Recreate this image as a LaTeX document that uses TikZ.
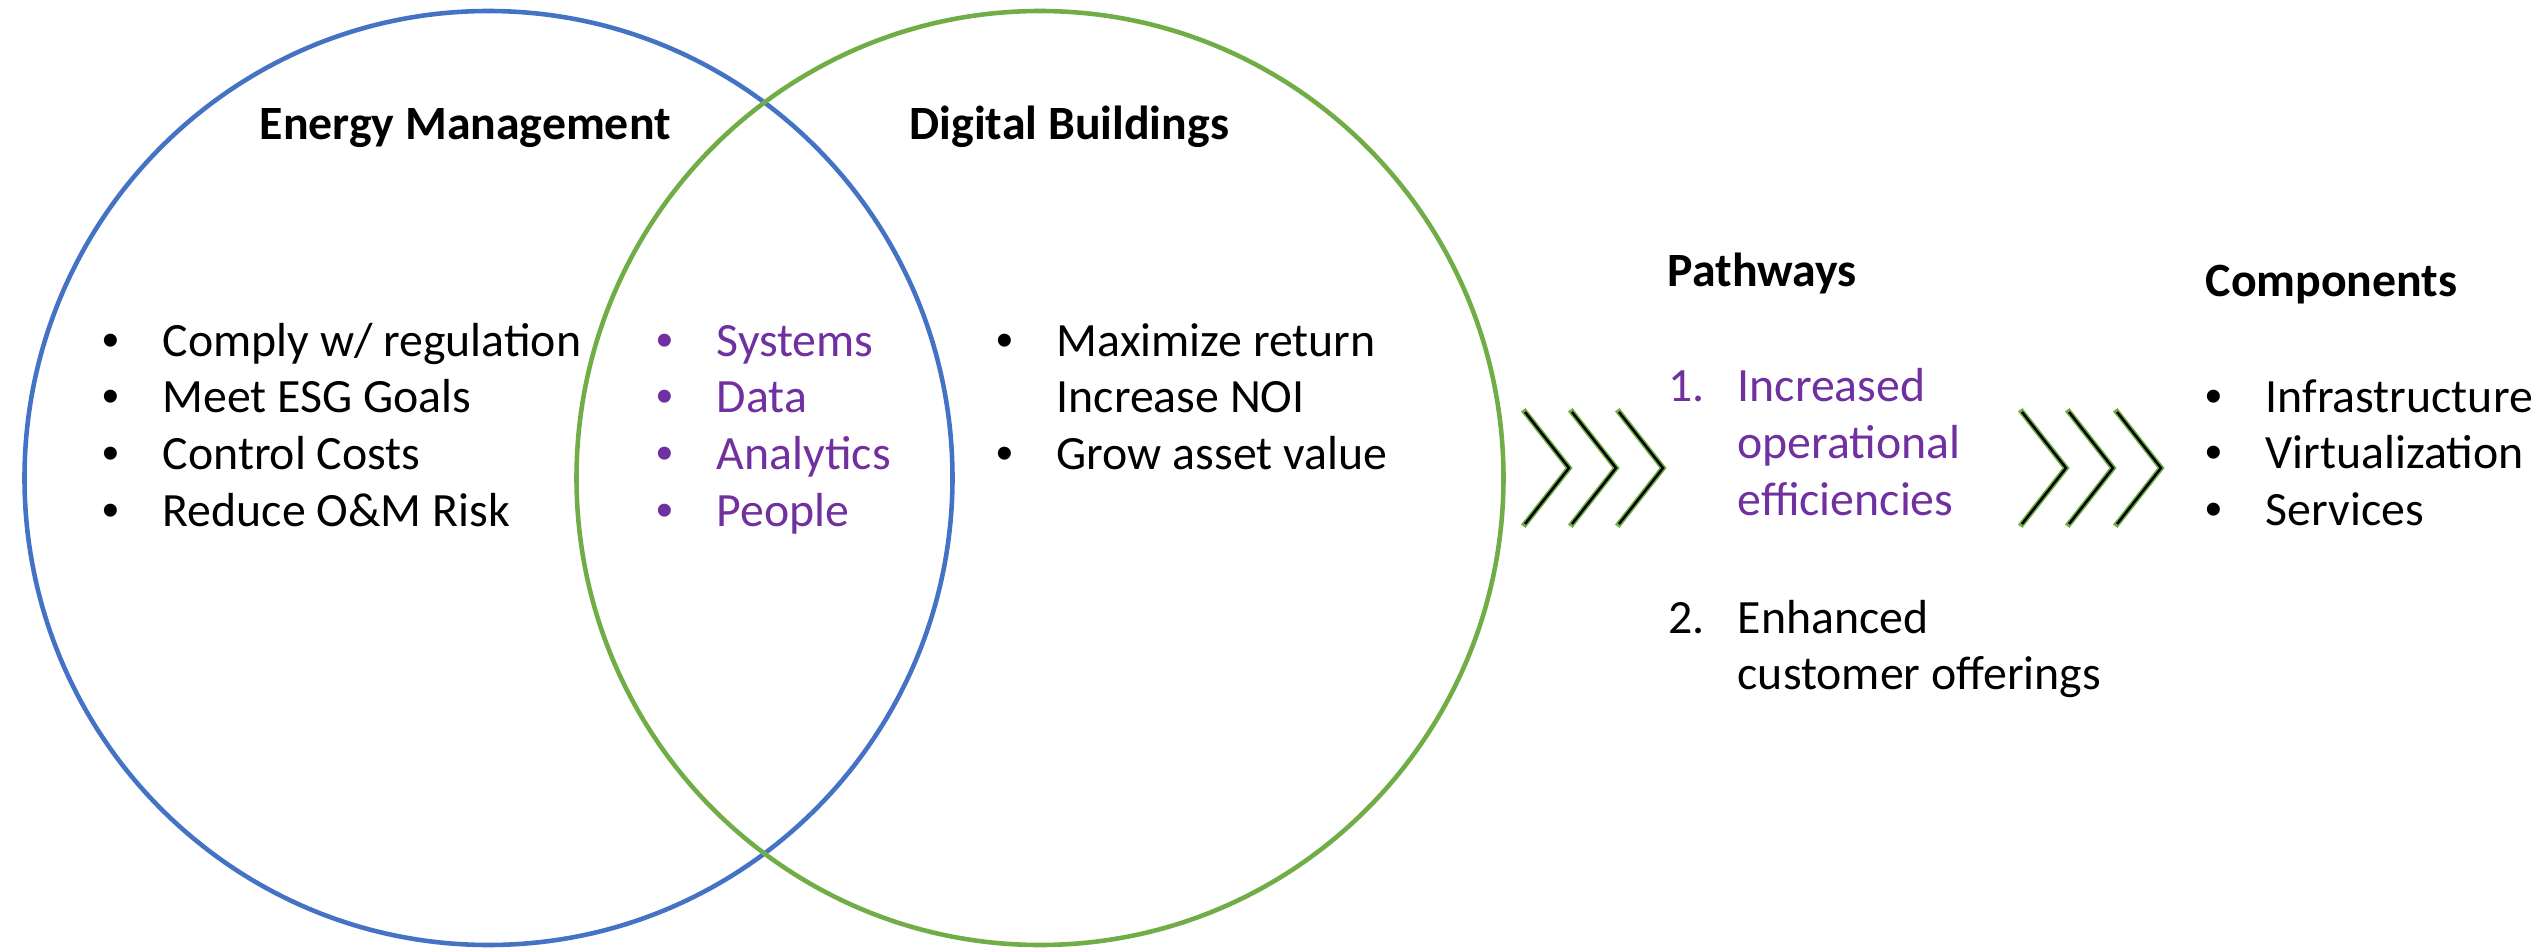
\documentclass[tikz,border=0pt]{standalone}
\usepackage{fontspec}
\usepackage{xcolor}
\setmainfont{Carlito}
\newfontfamily\bulletfont{Liberation Sans}
\usetikzlibrary{positioning}
\definecolor{vennblue}{RGB}{68,114,196}
\definecolor{venngreen}{RGB}{112,173,71}
\definecolor{listpurple}{RGB}{112,48,160}
\newcommand{\bitem}{\makebox[0.60cm][l]{\bulletfont •}}
\newcommand{\nitem}[1]{\makebox[0.69cm][l]{#1}}
\tikzset{
  heading/.style={anchor=base west, inner sep=0pt, font=\fontsize{13.6}{16.2}\selectfont\bfseries},
  listtext/.style={anchor=base west, inner sep=0pt, font=\fontsize{13.6}{16.2}\selectfont},
  chevronback/.style={venngreen, line width=1.6pt, line cap=rect},
  chevronfront/.style={black, line width=0.7pt},
}

\begin{document}
\begin{tikzpicture}[x=1cm,y=1cm]
    \useasboundingbox (0,0) rectangle (25.42,9.49);

    % Venn circles
    \draw[vennblue, line width=1.3pt] (4.885,4.71) ellipse [x radius=4.64, y radius=4.67];
    \draw[venngreen, line width=1.3pt] (10.40,4.71) ellipse [x radius=4.635, y radius=4.67];

    % Headings
    \node[heading] (energy) at (2.59,8.09) {Energy Management};
    \node[heading] (digital) at (9.09,8.09) {Digital Buildings};
    \node[heading] (pathways) at (16.67,6.62) {Pathways};
    \node[heading] (components) at (22.05,6.52) {Components};

    % Energy Management
    \node[listtext] (energylist) at (1.02,5.93) {\begin{tabular}[t]{@{}l@{}}
        \bitem Comply w/ regulation\\
        \bitem Meet ESG Goals\\
        \bitem Control Costs\\
        \bitem Reduce O\&M Risk
    \end{tabular}};

    % Overlap
    \node[listtext, text=listpurple] (sharedlist) at (6.56,5.93) {\begin{tabular}[t]{@{}l@{}}
        \bitem Systems\\
        \bitem Data\\
        \bitem Analytics\\
        \bitem People
    \end{tabular}};

    % Digital Buildings
    \node[listtext] (digitallist) at (9.96,5.93) {\begin{tabular}[t]{@{}l@{}}
        \bitem Maximize return\\
        \hspace{0.60cm}Increase NOI\\
        \bitem Grow asset value
    \end{tabular}};

    % Pathways
    \node[listtext, text=listpurple] (pathone) at (16.68,5.47) {\begin{tabular}[t]{@{}l@{}}
        \nitem{1.}Increased\\
        \hspace{0.69cm}operational\\
        \hspace{0.69cm}efficiencies
    \end{tabular}};
    \node[listtext] (pathtwo) at (16.68,3.16) {\begin{tabular}[t]{@{}l@{}}
        \nitem{2.}Enhanced\\
        \hspace{0.69cm}customer offerings
    \end{tabular}};

    % Components
    \node[listtext] (complist) at (22.05,5.37) {\begin{tabular}[t]{@{}l@{}}
        \bitem Infrastructure\\
        \bitem Virtualization\\
        \bitem Services
    \end{tabular}};

    % Chevrons
    \foreach \x in {15.25,15.72,16.19,20.22,20.69,21.17} {
        \draw[chevronback] (\x,5.37) -- (\x+0.44,4.81) -- (\x,4.25);
        \draw[chevronfront] (\x,5.37) -- (\x+0.44,4.81) -- (\x,4.25);
    }

\end{tikzpicture}
\end{document}
